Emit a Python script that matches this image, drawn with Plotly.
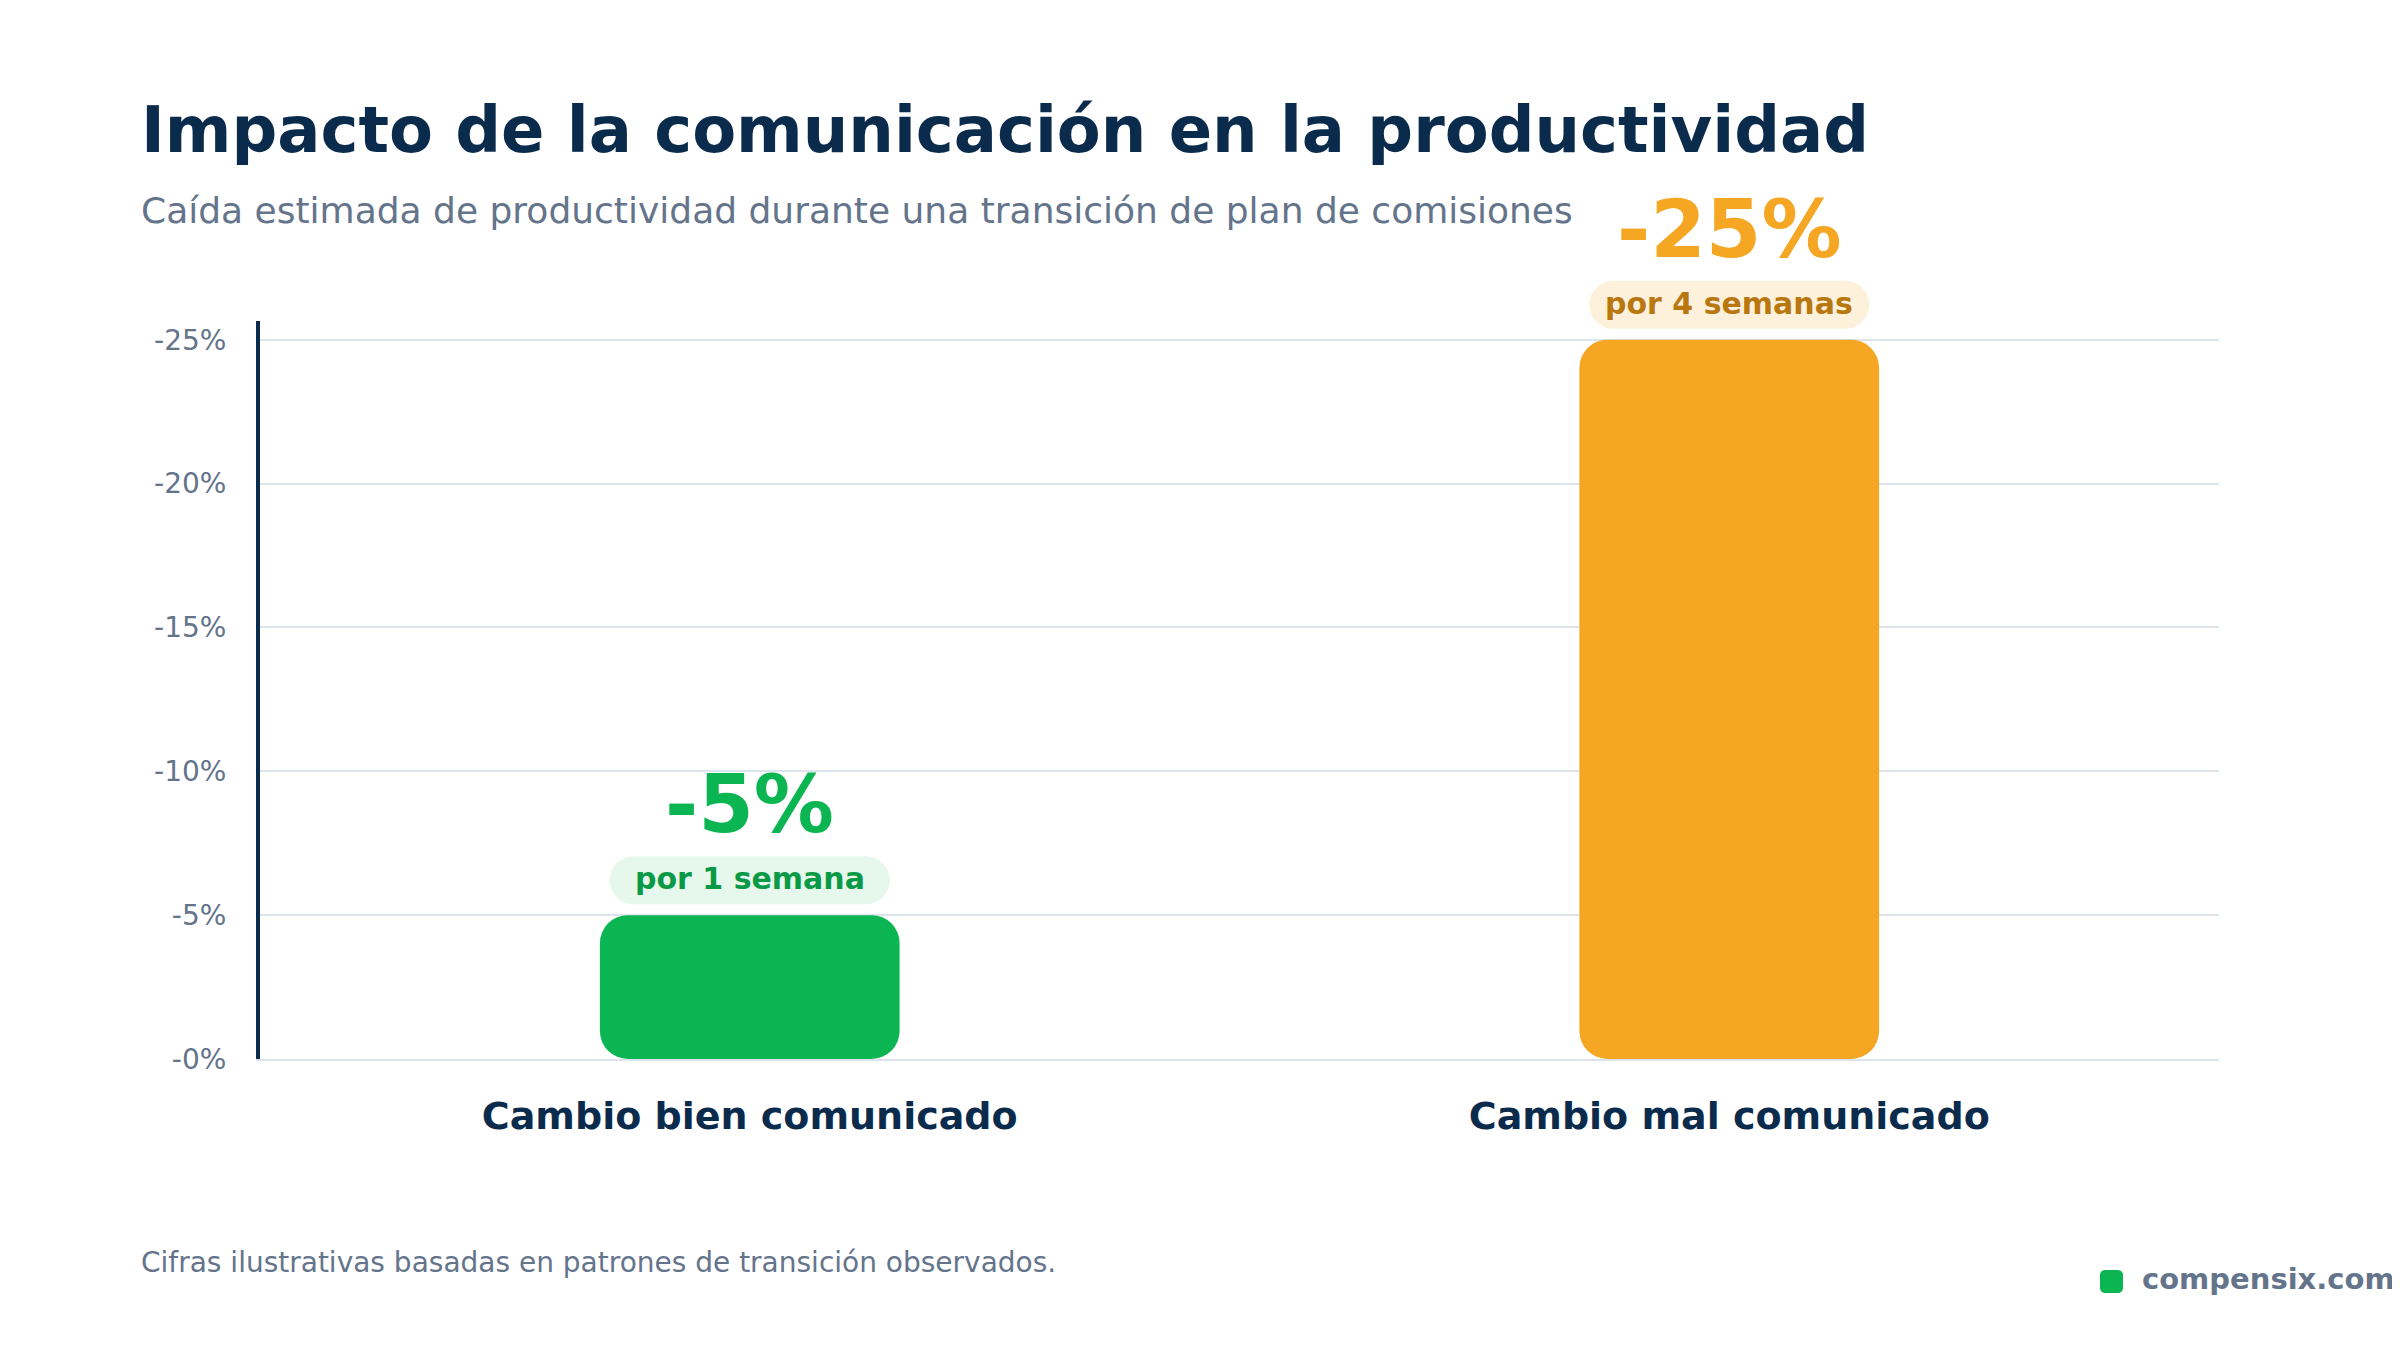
import plotly.graph_objects as go

categories = ["Cambio bien comunicado", "Cambio mal comunicado"]
drop_pct = [5, 25]
value_labels = ["-5%", "-25%"]
duration_labels = ["por 1 semana", "por 4 semanas"]

bar_colors = ["#0BB652", "#F5A623"]
pill_fills = ["#E6F7EC", "#FEF1DC"]
pill_text_colors = ["#0A9A47", "#B8770F"]

NAVY = "#0B2B4D"
SLATE = "#64748B"
GRID = "#DCE3EB"
FONT = "DejaVu Sans"
Y_MAX = 25.65


def rounded_rect(x0, y0, x1, y1, r):
    # pixel path with rounded corners (plotly paths have no arc command)
    k = 0.5523 * r
    return (
        f"M {x0 + r},{y0} L {x1 - r},{y0} "
        f"C {x1 - r + k},{y0} {x1},{y0 + r - k} {x1},{y0 + r} "
        f"L {x1},{y1 - r} "
        f"C {x1},{y1 - r + k} {x1 - r + k},{y1} {x1 - r},{y1} "
        f"L {x0 + r},{y1} "
        f"C {x0 + r - k},{y1} {x0},{y1 - r + k} {x0},{y1 - r} "
        f"L {x0},{y0 + r} "
        f"C {x0},{y0 + r - k} {x0 + r - k},{y0} {x0 + r},{y0} Z"
    )


fig = go.Figure()

# explicit base -> plotly rounds both ends of the bar
fig.add_trace(go.Bar(
    x=categories,
    y=drop_pct,
    base=[0] * len(drop_pct),
    width=0.306,
    marker=dict(color=bar_colors, cornerradius=28, line=dict(width=0)),
    customdata=value_labels,
    hovertemplate="%{x}: %{customdata}<extra></extra>",
))

n = len(categories)
for i, v in enumerate(drop_pct):
    # pill behind the duration label (paper refs so it is not clipped at the top)
    fig.add_shape(
        type="path", xref="paper", yref="paper",
        xsizemode="pixel", ysizemode="pixel",
        xanchor=(i + 0.5) / n, yanchor=v / Y_MAX,
        path=rounded_rect(-140, 11, 140, 59, 24),
        fillcolor=pill_fills[i], line=dict(width=0), layer="above",
    )
    fig.add_annotation(
        x=categories[i], y=v, yanchor="bottom", yshift=17,
        text=f"<b>{duration_labels[i]}</b>", showarrow=False,
        font=dict(family=FONT, size=30, color=pill_text_colors[i]),
    )
    fig.add_annotation(
        x=categories[i], y=v, yanchor="bottom", yshift=62,
        text=f"<b>{value_labels[i]}</b>", showarrow=False,
        font=dict(family=FONT, size=80, color=bar_colors[i]),
    )

# titles and footer
fig.add_annotation(
    xref="paper", yref="paper", x=-0.0618, y=1.206, xanchor="left", yanchor="bottom",
    text="<b>Impacto de la comunicación en la productividad</b>", showarrow=False,
    font=dict(family=FONT, size=64, color=NAVY),
)
fig.add_annotation(
    xref="paper", yref="paper", x=-0.0618, y=1.1186, xanchor="left", yanchor="bottom",
    text="Caída estimada de productividad durante una transición de plan de comisiones",
    showarrow=False, font=dict(family=FONT, size=36, color=SLATE),
)
fig.add_annotation(
    xref="paper", yref="paper", x=-0.0618, y=-0.3003, xanchor="left", yanchor="bottom",
    text="Cifras ilustrativas basadas en patrones de transición observados.",
    showarrow=False, font=dict(family=FONT, size=28, color=SLATE),
)
fig.add_annotation(
    xref="paper", yref="paper", x=(2140 - 260) / 1959, y=-0.324, xanchor="left", yanchor="bottom",
    text="<b>compensix.com</b>", showarrow=False,
    font=dict(family=FONT, size=29, color=SLATE),
)
fig.add_shape(
    type="path", xref="paper", yref="paper",
    xsizemode="pixel", ysizemode="pixel",
    xanchor=(2100 - 260) / 1959, yanchor=(1059 - 1293) / 738,
    path=rounded_rect(0, 0, 23, 23, 5),
    fillcolor="#0BB652", line=dict(width=0),
)

fig.update_layout(
    width=2392, height=1342,
    margin=dict(l=252, r=181, t=313, b=291),
    paper_bgcolor="white", plot_bgcolor="white",
    showlegend=False,
    font=dict(family=FONT),
)
fig.update_xaxes(
    type="category", range=[-0.5, n - 0.5],
    showgrid=False, showline=True, linecolor=GRID, linewidth=2,
    ticks="", ticklabelstandoff=22,
    tickfont=dict(family=FONT, size=38, color=NAVY, weight="bold"),
)
fig.update_yaxes(
    range=[0, Y_MAX], dtick=5, tickprefix="-", ticksuffix="%",
    showgrid=True, gridcolor=GRID, gridwidth=2,
    showline=True, linecolor=NAVY, linewidth=4,
    zeroline=False, ticks="", ticklabelstandoff=24,
    tickfont=dict(family=FONT, size=28, color=SLATE),
)

fig.write_html("out.html")
